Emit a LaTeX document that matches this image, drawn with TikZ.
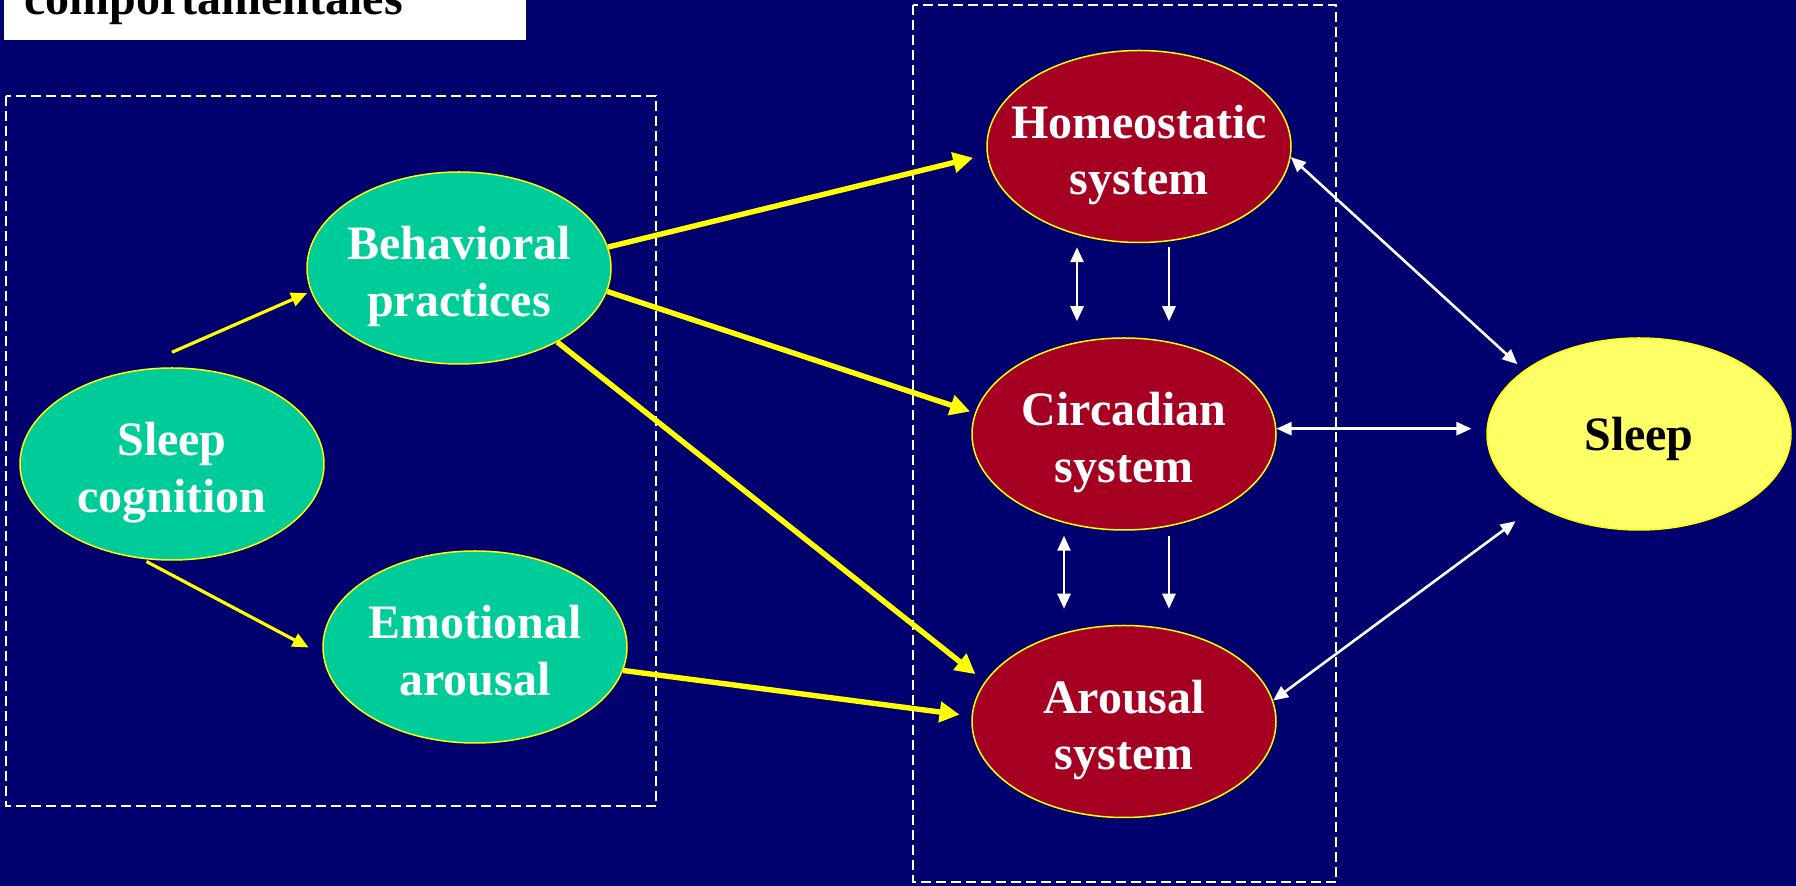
\documentclass[tikz,border=0pt]{standalone}
\usepackage{fontspec}
\setmainfont{Liberation Serif}
\usetikzlibrary{shapes.geometric,arrows.meta,calc}
\definecolor{bg}{HTML}{00006E}
\definecolor{teal}{HTML}{00CC99}
\definecolor{wine}{HTML}{A50021}
\definecolor{lemon}{HTML}{FFFF66}
\definecolor{ylw}{HTML}{FFFF00}
\tikzset{
  box/.style={ellipse, draw=ylw, line width=0.75pt, minimum width=152pt, minimum height=96pt,
    inner xsep=-14pt, inner ysep=0pt, align=center, font=\bfseries\fontsize{24}{28.35}\selectfont,
    text height=48.5pt, text depth=0pt},
  factor/.style={box, fill=teal, text=white},
  system/.style={box, fill=wine, text=white},
  outcome/.style={box, fill=lemon, text=black, text height=16.5pt},
  dashbox/.style={draw=white, line width=1pt, dash pattern=on 5pt off 2.5pt},
  yline/.style={draw=ylw, line width=1.6pt, -{Triangle[length=8pt,width=7pt]}},
  ybold/.style={draw=ylw, line width=2.7pt, -{Triangle[length=10pt,width=10pt]}},
  wline/.style={draw=white, line width=1.3pt, -{Triangle[length=7.5pt,width=6.5pt]}},
  wboth/.style={wline, {Triangle[length=7.5pt,width=6.5pt]}-{Triangle[length=7.5pt,width=6.5pt]}}
}

\begin{document}
\begin{tikzpicture}[x=0.5pt, y=-0.5pt]
  \clip (0,0) rectangle (1796,886);
  \fill[bg] (0,0) rectangle (1796,886);

  \fill[white] (4,-5) rectangle (526,40);
  \node[anchor=base west, inner sep=0pt, font=\bfseries\fontsize{24}{28.35}\selectfont] (title) at (24,15) {comportamentales};

  \draw[dashbox] (6,96) rectangle (656,806);
  \draw[dashbox] (913,5) rectangle (1336,882);

  \node[factor] (sc) at (172,464) {Sleep\\cognition};
  \node[factor] (bp) at (459,268) {Behavioral\\practices};
  \node[factor] (ea) at (475,647) {Emotional\\arousal};
  \node[system] (hs) at (1139,146.5) {Homeostatic\\system};
  \node[system] (cs) at (1124,434) {Circadian\\system};
  \node[system] (as) at (1124,721.5) {Arousal\\system};
  \node[outcome] (sl) at (1639,434) {Sleep};

  \draw[yline, shorten >=2pt] ([yshift=7.5pt]sc.north) -- (bp.189);
  \draw[yline, shorten <=3pt, shorten >=8pt] (sc.-108) -- (ea.183);
  \draw[ybold, shorten >=7pt] (bp.8) -- (hs.183);
  \draw[ybold, shorten >=2.5pt] (bp.-9) -- (cs.172);
  \draw[ybold, shorten >=6pt] (bp.-37) -- (as.164);
  \draw[ybold, shorten >=6pt] (ea.-9) -- (as.178);

  \draw[wboth] ($(hs.south)+(-62,4)$) -- ($(cs.north)+(-47,-16)$);
  \draw[wline] ($(hs.south)+(30,4)$) -- ($(cs.north)+(45,-16)$);
  \draw[wboth] ($(cs.south)+(-60,5)$) -- ($(as.north)+(-60,-16)$);
  \draw[wline] ($(cs.south)+(45,5)$) -- ($(as.north)+(45,-16)$);

  \draw[wboth, shorten >=4.5pt] (hs.-4) -- (sl.151);
  \draw[wboth, shorten >=7.5pt] (cs.2) -- (sl.178);
  \draw[wboth, shorten >=13pt] (as.8.5) -- (sl.215);
\end{tikzpicture}
\end{document}
